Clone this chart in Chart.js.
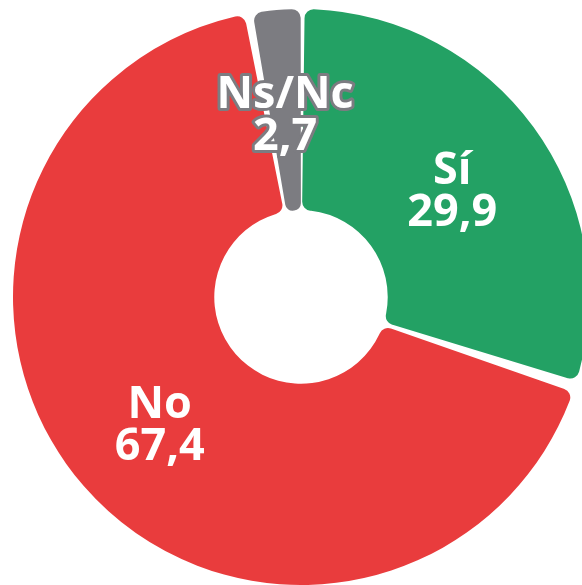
<!DOCTYPE html>
<html>
<head>
<meta charset="utf-8">
<script src="https://cdn.jsdelivr.net/npm/chart.js@4.4.1/dist/chart.umd.min.js"></script>
<style>
  html, body { margin: 0; padding: 0; background: #fff; overflow: hidden; width: 582px; height: 585px; }
  #wrap { position: absolute; left: 13px; top: 9px; width: 576px; height: 576px; }
</style>
</head>
<body>
<div id="wrap"><canvas id="c" width="576" height="576"></canvas></div>
<script>
const categories = ['Sí', 'No', 'Ns/Nc'];
const values = [29.9, 67.4, 2.7];
const colors = ['#23a164', '#e93c3d', '#7c7c81'];
const outlined = [false, false, true];

const fmt = v => v.toFixed(1).replace('.', ',');

const labelPlugin = {
  id: 'sliceLabels',
  afterDatasetsDraw(chart) {
    const ctx = chart.ctx;
    const meta = chart.getDatasetMeta(0);
    meta.data.forEach((arc, i) => {
      const p = arc.tooltipPosition();
      const lines = [categories[i], fmt(values[i])];
      ctx.save();
      ctx.font = '700 45px "Open Sans", sans-serif';
      ctx.textAlign = 'center';
      ctx.textBaseline = 'alphabetic';
      ctx.lineJoin = 'round';
      const b1 = p.y - 2, b2 = p.y + 40;
      [[lines[0], b1], [lines[1], b2]].forEach(([t, y]) => {
        if (outlined[i]) {
          ctx.strokeStyle = colors[i];
          ctx.lineWidth = 6;
          ctx.strokeText(t, p.x, y);
        }
        ctx.fillStyle = '#ffffff';
        ctx.fillText(t, p.x, y);
      });
      ctx.restore();
    });
  }
};

new Chart(document.getElementById('c'), {
  type: 'doughnut',
  data: {
    labels: categories,
    datasets: [{
      data: values,
      backgroundColor: colors,
      borderWidth: 0,
      spacing: 5,
      borderRadius: 9
    }]
  },
  options: {
    responsive: false,
    animation: false,
    cutout: '29.5%',
    rotation: 0,
    layout: { padding: 0 },
    plugins: { legend: { display: false }, tooltip: { enabled: false } }
  },
  plugins: [labelPlugin]
});
</script>
</body>
</html>
